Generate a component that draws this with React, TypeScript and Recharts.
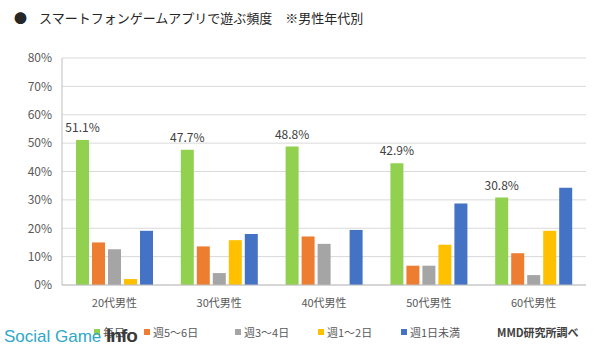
import React from 'react';
import { BarChart, Bar, XAxis, YAxis, CartesianGrid, LabelList } from 'recharts';

const AGE_GROUPS = ['20代男性', '30代男性', '40代男性', '50代男性', '60代男性'];
const DAILY = [51.1, 47.7, 48.8, 42.9, 30.8];
const WEEK_5_6 = [15.0, 13.6, 17.1, 6.8, 11.2];
const WEEK_3_4 = [12.6, 4.2, 14.5, 6.8, 3.5];
const WEEK_1_2 = [2.1, 15.8, 0, 14.2, 19.1];
const UNDER_WEEKLY = [19.1, 18.0, 19.4, 28.7, 34.3];
const Y_TICKS = [0, 10, 20, 30, 40, 50, 60, 70, 80];

const SERIES = [
  { key: 'daily', name: '毎日', values: DAILY, color: '#92D050' },
  { key: 'w56', name: '週5～6日', values: WEEK_5_6, color: '#ED7D31' },
  { key: 'w34', name: '週3～4日', values: WEEK_3_4, color: '#A5A5A5' },
  { key: 'w12', name: '週1～2日', values: WEEK_1_2, color: '#FFC000' },
  { key: 'lt1', name: '週1日未満', values: UNDER_WEEKLY, color: '#4472C4' },
];

const data = AGE_GROUPS.map((g, i) => {
  const row: any = { name: g };
  SERIES.forEach((s) => (row[s.key] = s.values[i]));
  return row;
});

const FONT = '"Noto Sans CJK JP", "Noto Sans", sans-serif';
const LEGEND_LEFT = [94, 144, 235, 318, 401];

// legend drawn as plain html so it doesn't shrink the plot area
const ChartLegend = () => (
  <div style={{ position: 'absolute', left: 0, top: 324, width: 600, height: 20, fontSize: 11, color: '#595959' }}>
    {SERIES.map((s, i) => (
      <span key={s.key} style={{ position: 'absolute', left: LEGEND_LEFT[i], top: 0, whiteSpace: 'nowrap', display: 'flex', alignItems: 'center' }}>
        <span style={{ display: 'inline-block', width: 6, height: 6, background: s.color, marginRight: 3 }} />
        {s.name}
      </span>
    ))}
    <span style={{ position: 'absolute', left: 497, top: 0, fontWeight: 700, color: '#404040', whiteSpace: 'nowrap' }}>MMD研究所調べ</span>
  </div>
);

const App: React.FC = () => {
  return (
    <div style={{ position: 'absolute', left: 0, top: 0, width: 600, height: 353, background: '#fff', fontFamily: FONT, overflow: 'hidden' }}>
      <div style={{ position: 'absolute', left: 14, top: 8, fontSize: 13, color: '#262626', whiteSpace: 'nowrap' }}>
        <span style={{ marginRight: 12 }}>●</span>
        スマートフォンゲームアプリで遊ぶ頻度　※男性年代別
      </div>
      <BarChart
        width={600}
        height={353}
        data={data}
        margin={{ top: 58, right: 14, bottom: 38, left: 0 }}
        barCategoryGap={14}
        barGap={3}
      >
        <CartesianGrid vertical={false} stroke="#d9d9d9" yAxisId="left" />
        <XAxis
          dataKey="name"
          height={30}
          tickLine={false}
          axisLine={{ stroke: '#bfbfbf' }}
          tick={{ fontSize: 11, fill: '#595959', fontFamily: FONT }}
          tickMargin={8}
        />
        <YAxis
          yAxisId="left"
          width={62}
          domain={[0, 80]}
          ticks={Y_TICKS}
          tickFormatter={(v) => `${v}%`}
          tickLine={false}
          tickSize={0}
          tickMargin={10}
          axisLine={{ stroke: '#bfbfbf' }}
          tick={{ fontSize: 12, fill: '#595959', fontFamily: FONT }}
        />
        <YAxis yAxisId="right" orientation="right" width={0} domain={[0, 80]} tick={false} tickLine={false} axisLine={{ stroke: '#bfbfbf' }} />
        {SERIES.map((s, i) => (
          <Bar key={s.key} yAxisId="left" dataKey={s.key} name={s.name} fill={s.color} isAnimationActive={false}>
            {i === 0 && (
              <LabelList
                dataKey={s.key}
                position="top"
                offset={8}
                formatter={(v: any) => `${Number(v).toFixed(1)}%`}
                style={{ fontSize: 12, fill: '#404040', fontFamily: FONT }}
              />
            )}
          </Bar>
        ))}
      </BarChart>
      <ChartLegend />
      <div style={{ position: 'absolute', left: 4, top: 325, whiteSpace: 'nowrap', fontFamily: '"Liberation Sans", Arial, sans-serif', lineHeight: '22px' }}>
        <span style={{ fontSize: 17, color: '#2ea7c9' }}>Social Game </span>
        <span style={{ fontSize: 19, fontWeight: 700, color: '#3a3a3a', letterSpacing: -1 }}>Info</span>
      </div>
    </div>
  );
};

export default App;
